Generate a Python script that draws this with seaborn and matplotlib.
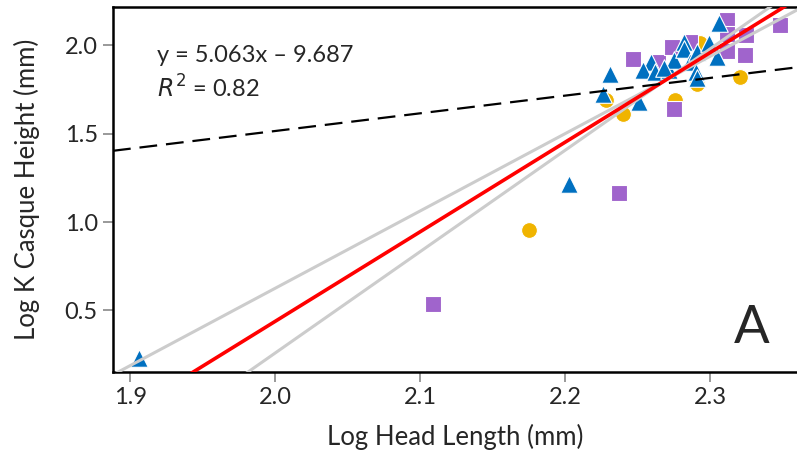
import numpy as np
import pandas as pd
import seaborn as sns
import matplotlib.pyplot as plt

# --- data ------------------------------------------------------------------
circle_x = [2.228, 2.240, 2.175, 2.276, 2.291, 2.293, 2.321]
circle_y = [1.688, 1.612, 0.955, 1.688, 1.782, 2.010, 1.820]

triangle_x = [1.906, 2.203, 2.231, 2.226, 2.251, 2.259, 2.254, 2.262, 2.272, 2.275,
              2.282, 2.282, 2.286, 2.290, 2.291, 2.291, 2.299, 2.305, 2.306, 2.268]
triangle_y = [0.229, 1.218, 1.835, 1.726, 1.678, 1.905, 1.858, 1.848, 1.858, 1.915,
              2.019, 1.981, 1.905, 1.848, 1.816, 1.962, 2.010, 1.934, 2.123, 1.870]

square_x = [2.109, 2.237, 2.275, 2.247, 2.264, 2.274, 2.286, 2.312, 2.312, 2.312,
            2.324, 2.325, 2.348]
square_y = [0.536, 1.163, 1.640, 1.924, 1.905, 1.990, 2.019, 2.142, 2.066, 1.970,
            1.943, 2.057, 2.114]

# fitted line, its slope bounds, and the dashed reference line
fit_slope, fit_intercept = 5.063, -9.687
ci_slopes = [4.37, 5.73]
ci_intercepts = [-8.114, -11.200]
ref_slope, ref_intercept = 1.0, -0.485

x_ticks = [1.9, 2.0, 2.1, 2.2, 2.3]
y_ticks = [0.5, 1.0, 1.5, 2.0]

df = pd.DataFrame({
    'x': circle_x + triangle_x + square_x,
    'y': circle_y + triangle_y + square_y,
    'group': ['circle'] * len(circle_x) + ['triangle'] * len(triangle_x)
             + ['square'] * len(square_x),
})

sns.set_theme(style='white')
plt.rcParams['font.family'] = ['Lato', 'DejaVu Sans']

fig = plt.figure(figsize=(7.97, 4.59), dpi=100)
ax = fig.add_axes([0.1418, 0.1895, 0.8582, 0.7952])

palette = {'circle': '#F0B400', 'triangle': '#0070C0', 'square': '#A064CC'}
markers = {'circle': 'o', 'triangle': '^', 'square': 's'}
sizes = {'circle': 130, 'triangle': 160, 'square': 120}
for g in ['circle', 'square', 'triangle']:
    sub = df[df['group'] == g]
    sns.scatterplot(data=sub, x='x', y='y', color=palette[g], marker=markers[g],
                    s=sizes[g], edgecolor='white', linewidth=0.8, ax=ax,
                    legend=False, zorder=2)

xmin, xmax = 1.888, 2.36
ymin, ymax = 0.152, 2.216
xs = np.linspace(xmin, xmax, 50)
for m, b in zip(ci_slopes, ci_intercepts):
    ax.plot(xs, m * xs + b, color='#CCCCCC', lw=2.2, zorder=3)
ax.plot(xs, fit_slope * xs + fit_intercept, color='#FF0000', lw=2.6, zorder=4)
ax.plot(xs, ref_slope * xs + ref_intercept, color='black', lw=1.6,
        dashes=(8, 4), zorder=4)

ax.set_xlim(xmin, xmax)
ax.set_ylim(ymin, ymax)
ax.set_xticks(x_ticks)
ax.set_yticks(y_ticks)
ax.set_xticklabels([f'{t:.1f}' for t in x_ticks])
ax.set_yticklabels([f'{t:.1f}' for t in y_ticks])
ax.tick_params(axis='both', which='major', labelsize=17, direction='out',
               length=7, width=1.2, color='#888888', left=True, bottom=True,
               pad=4)
ax.set_xlabel('Log Head Length (mm)', fontsize=18.5, labelpad=11)
ax.set_ylabel('Log K Casque Height (mm)', fontsize=18.5, labelpad=18)

for side in ['left', 'bottom', 'top']:
    ax.spines[side].set_color('black')
    ax.spines[side].set_linewidth(1.8)
ax.spines['right'].set_visible(False)

ax.text(0.064, 0.868, 'y = 5.063x \u2013 9.687', transform=ax.transAxes,
        fontsize=17, va='center', ha='left')
ax.text(0.064, 0.778, '$R^2$ = 0.82', transform=ax.transAxes,
        fontsize=17, va='center', ha='left')
ax.text(0.934, 0.12, 'A', transform=ax.transAxes, fontsize=38,
        va='center', ha='center')

fig.savefig('out.png', dpi=100)
